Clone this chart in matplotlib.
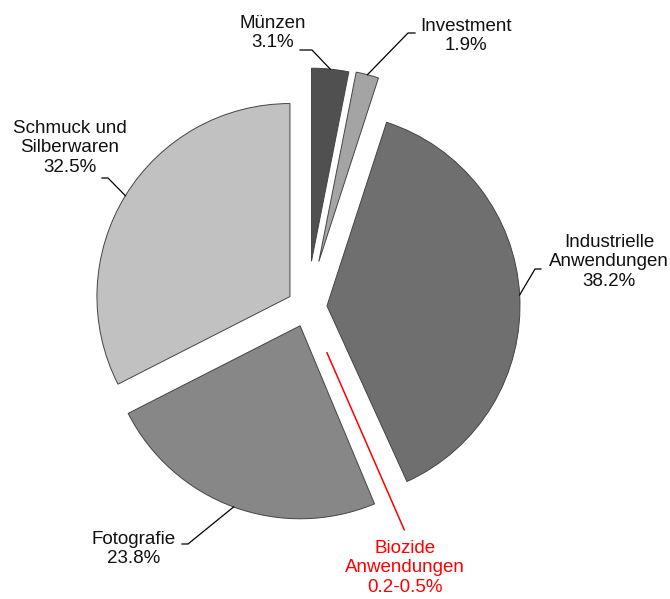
import numpy as np
import matplotlib
matplotlib.use("Agg")
import matplotlib.pyplot as plt

plt.rcParams['font.family'] = ['Liberation Sans', 'DejaVu Sans']

labels = ["Münzen", "Investment", "Industrielle\nAnwendungen", "Biozide\nAnwendungen",
          "Fotografie", "Schmuck und\nSilberwaren"]
shares = [3.1, 1.9, 38.2, 0.5, 23.8, 32.5]
share_text = ["3.1%", "1.9%", "38.2%", "0.2-0.5%", "23.8%", "32.5%"]

colors = ["#505050", "#a4a4a4", "#6f6f6f", "none", "#878787", "#c1c1c1"]
explode = [46, 47, 20, 50, 20, 20]   # pixels (figure is 1 unit = 1 px)

W, H = 670, 599
fig = plt.figure(figsize=(W / 100, H / 100), dpi=100)
ax = fig.add_axes([0, 0, 1, 1])
ax.set_aspect("equal")
ax.axis("off")

wedges, _ = ax.pie(shares, colors=colors, explode=explode, startangle=90,
                   counterclock=False, radius=193, center=(307, H - 307),
                   wedgeprops=dict(edgecolor="#444444", linewidth=0.7))
ax.set_xlim(0, W)
ax.set_ylim(0, H)

# Biozide slice drawn as a thin red line
bw = wedges[3]
bw.set_edgecolor("none")
mid = np.deg2rad((bw.theta1 + bw.theta2) / 2)
cx, cy = bw.center
ax.plot([cx, cx + bw.r * np.cos(mid)], [cy, cy + bw.r * np.sin(mid)],
        color="red", lw=1.1)

# label layout (image pixel coords): text centre, elbow, dash end
layout = {
    0: ((273, 33), (312, 50), (300, 50)),
    1: ((466, 36), (408, 33), (415, 33)),
    2: ((609, 262), (535, 269), (541, 269)),
    4: ((134, 549), (188, 544), (182, 544)),
    5: ((70, 148), (108, 178), (102, 178)),
}

for i, (txt, elbow, end) in layout.items():
    w = wedges[i]
    a = np.deg2rad((w.theta1 + w.theta2) / 2)
    px, py = w.center[0] + w.r * np.cos(a), w.center[1] + w.r * np.sin(a)
    ax.plot([px, elbow[0], end[0]], [py, H - elbow[1], H - end[1]],
            color="black", lw=0.9)
    ax.text(txt[0], H - txt[1], labels[i] + "\n" + share_text[i], ha="center",
            va="center", fontsize=13.5, linespacing=1.22, color="#111111")

ax.text(405, H - 568, labels[3] + "\n" + share_text[3], ha="center", va="center",
        fontsize=13.5, linespacing=1.22, color="red")

fig.savefig("out.png", dpi=100)
